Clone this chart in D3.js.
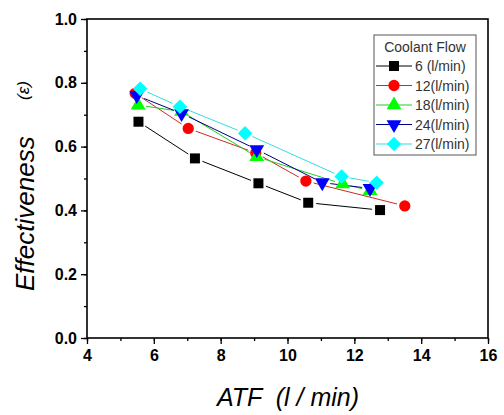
<!DOCTYPE html>
<html>
<head>
<meta charset="utf-8">
<script src="https://cdn.jsdelivr.net/npm/d3@7"></script>
<style>
  body { margin: 0; background: #fff; }
  text { font-family: Arial, "Liberation Sans", sans-serif; }
</style>
</head>
<body>
<div id="chart"></div>
<script>
// Series data
var flowNames = ["6 (l/min)", "12(l/min)", "18(l/min)", "24(l/min)", "27(l/min)"];
var atf6  = [5.54, 7.23, 9.13, 10.62, 12.77];
var eff6  = [0.678, 0.563, 0.485, 0.424, 0.401];
var atf12 = [5.44, 7.03, 9.05, 10.55, 13.51];
var eff12 = [0.767, 0.657, 0.580, 0.492, 0.414];
var atf18 = [5.53, 6.83, 9.08, 11.65, 12.47];
var eff18 = [0.730, 0.710, 0.568, 0.483, 0.462];
var atf24 = [5.49, 6.83, 9.08, 11.04, 12.47];
var eff24 = [0.760, 0.704, 0.591, 0.487, 0.469];
var atf27 = [5.59, 6.78, 8.73, 11.62, 12.67];
var eff27 = [0.781, 0.725, 0.642, 0.506, 0.487];
var xTicks = [4, 6, 8, 10, 12, 14, 16];
var yTicks = [0.0, 0.2, 0.4, 0.6, 0.8, 1.0];

var markColors = ["#000000", "#ff0000", "#00ff00", "#0000ff", "#00ffff"];
var lineColors = ["#000000", "#d02828", "#22cc22", "#000080", "#33dddd"];

var series = [
  { name: flowNames[0], x: atf6,  y: eff6,  shape: "square" },
  { name: flowNames[1], x: atf12, y: eff12, shape: "circle" },
  { name: flowNames[2], x: atf18, y: eff18, shape: "up" },
  { name: flowNames[3], x: atf24, y: eff24, shape: "down" },
  { name: flowNames[4], x: atf27, y: eff27, shape: "diamond" }
];

var W = 504, H = 415;
var margin = { top: 19, right: 16, bottom: 77, left: 87 },
    width = W - margin.left - margin.right,
    height = H - margin.top - margin.bottom;

var svg = d3.select("#chart").append("svg")
    .attr("width", W)
    .attr("height", H);

var g = svg.append("g")
    .attr("transform", "translate(" + margin.left + "," + margin.top + ")");

var x = d3.scaleLinear().domain([4, 16]).range([0, width]);
var y = d3.scaleLinear().domain([0, 1]).range([height, 0]);

// marker path generator
function markerPath(shape) {
  if (shape === "square") return d3.symbol(d3.symbolSquare, 100)();
  if (shape === "circle") return d3.symbol(d3.symbolCircle, 100)();
  if (shape === "up" || shape === "down") return d3.symbol(d3.symbolTriangle, 95)();
  return d3.symbol(d3.symbolSquare, 105)();
}
function markerRotate(shape) {
  if (shape === "down") return " rotate(180)";
  if (shape === "diamond") return " rotate(45)";
  return "";
}

// minor ticks
g.append("g")
    .attr("transform", "translate(0," + height + ")")
    .call(d3.axisBottom(x).ticks(12).tickSize(3).tickFormat(""))
    .call(a => a.select(".domain").remove())
    .selectAll("line").attr("stroke-width", 1.3);
g.append("g")
    .call(d3.axisLeft(y).ticks(10).tickSize(3).tickFormat(""))
    .call(a => a.select(".domain").remove())
    .selectAll("line").attr("stroke-width", 1.3);

// major axes
var xAxis = g.append("g")
    .attr("transform", "translate(0," + height + ")")
    .call(d3.axisBottom(x).tickValues(xTicks).tickSize(6).tickPadding(6).tickFormat(d3.format("d")));
xAxis.selectAll("text")
    .style("font-size", "16px").style("font-weight", "bold").attr("fill", "#000");

var yAxis = g.append("g")
    .call(d3.axisLeft(y).tickValues(yTicks).tickSize(6).tickPadding(4).tickFormat(d3.format(".1f")));
yAxis.selectAll("text")
    .style("font-size", "16px").style("font-weight", "bold").attr("fill", "#000");

g.selectAll(".domain").remove();
g.selectAll(".tick line").attr("stroke-width", 1.3);

// frame
g.append("rect")
    .attr("width", width).attr("height", height)
    .attr("fill", "none").attr("stroke", "#000").attr("stroke-width", 1.6);

// lines, drawn segment by segment with a small gap around markers
var gap = 8;
series.forEach(function (s, i) {
  var pts = s.x.map((v, k) => [x(v), y(s.y[k])]);
  for (var k = 0; k < pts.length - 1; k++) {
    var p0 = pts[k], p1 = pts[k + 1];
    var dx = p1[0] - p0[0], dy = p1[1] - p0[1];
    var len = Math.sqrt(dx * dx + dy * dy);
    if (len <= 2 * gap) continue;
    var ux = dx / len, uy = dy / len;
    g.append("line")
        .attr("x1", p0[0] + ux * gap).attr("y1", p0[1] + uy * gap)
        .attr("x2", p1[0] - ux * gap).attr("y2", p1[1] - uy * gap)
        .attr("stroke", lineColors[i])
        .attr("stroke-width", 1);
  }
});

// markers
series.forEach(function (s, i) {
  g.append("g")
    .selectAll("path")
    .data(s.x.map((v, k) => ({ x: v, y: s.y[k] })))
    .enter()
    .append("path")
    .attr("d", markerPath(s.shape))
    .attr("transform", d => "translate(" + x(d.x) + "," + y(d.y) + ")" + markerRotate(s.shape))
    .attr("fill", markColors[i]);
});

// legend
var legend = svg.append("g").attr("transform", "translate(374,35)");
legend.append("rect")
    .attr("width", 102).attr("height", 120)
    .attr("fill", "#fff").attr("stroke", "#555").attr("stroke-width", 1);
legend.append("text")
    .attr("x", 51).attr("y", 17)
    .attr("text-anchor", "middle")
    .style("font-size", "14px").attr("fill", "#333")
    .text("Coolant Flow");
series.forEach(function (s, i) {
  var row = legend.append("g").attr("transform", "translate(0," + (31 + i * 19.5) + ")");
  row.append("line")
      .attr("x1", 2).attr("x2", 38).attr("y1", 0).attr("y2", 0)
      .attr("stroke", lineColors[i]).attr("stroke-width", 1);
  row.append("path")
      .attr("d", markerPath(s.shape))
      .attr("transform", "translate(20,0)" + markerRotate(s.shape))
      .attr("fill", markColors[i]);
  row.append("text")
      .attr("x", 41).attr("y", 5)
      .style("font-size", "14px").attr("fill", "#333")
      .text(s.name);
});

// axis titles
svg.append("text")
    .attr("x", 288).attr("y", 406)
    .attr("text-anchor", "middle")
    .style("font-size", "25px").style("font-style", "italic")
    .style("white-space", "pre")
    .text("ATF  (l / min)");

svg.append("text")
    .attr("transform", "translate(34,291) rotate(-90)")
    .attr("text-anchor", "start")
    .style("font-size", "26px").style("font-style", "italic")
    .text("Effectiveness");
svg.append("text")
    .attr("transform", "translate(29,100) rotate(-90)")
    .attr("text-anchor", "start")
    .style("font-size", "17px").style("font-style", "italic")
    .text("(\u03b5)");
</script>
</body>
</html>
